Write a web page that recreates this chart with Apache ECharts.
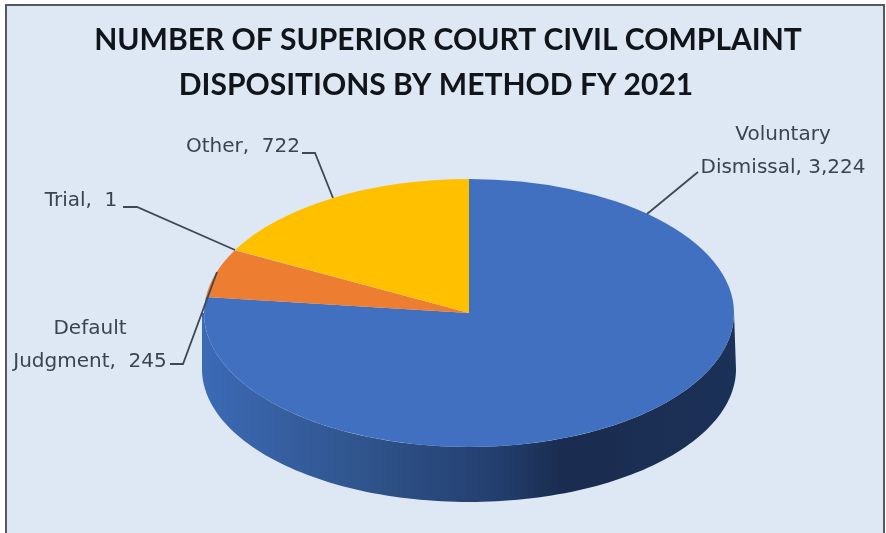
<!DOCTYPE html>
<html>
<head>
<meta charset="utf-8">
<style>html,body{margin:0;padding:0;background:#fff}#chart{width:886px;height:533px}</style>
<script src="https://cdn.jsdelivr.net/npm/echarts@6/dist/echarts.min.js"></script>
</head>
<body>
<div id="chart"></div>
<script>
// Civil complaint dispositions, clockwise from twelve o'clock
var categories = ["Voluntary Dismissal", "Default Judgment", "Trial", "Other"];
var dispositions = [3224, 245, 1, 722];
var sliceColors = ["#4170c1", "#ed7d31", "#a5a5a5", "#ffc000"];
var sliceLabels = ["Voluntary\nDismissal, 3,224", "Default\nJudgment,  245", "Trial,  1", "Other,  722"];
var titleLines = ["NUMBER OF SUPERIOR COURT CIVIL COMPLAINT", "DISPOSITIONS BY METHOD FY 2021"];

// Tilted-disc geometry
var disc = { cx: 469, cy: 313, rx: 265, ry: 134, baseCy: 369, baseRx: 267, baseRy: 133 };
var labelPlaces = [
  { x: 783, y: 151, path: [[647, 214], [698, 172]] },
  { x: 90, y: 345, path: [[170, 364], [183, 364], [217, 272]] },
  { x: 81, y: 201, path: [[123, 207], [137, 207], [235, 250]] },
  { x: 243, y: 147, path: [[302, 153], [315, 153], [333, 198]] }
];

var total = dispositions.reduce(function (a, b) { return a + b; }, 0);
var starts = [];
dispositions.reduce(function (sum, v, i) { starts[i] = sum; return sum + v; }, 0);
var toAngle = function (v) { return v / total * Math.PI * 2; };
var rows = dispositions.map(function (v, i) { return [v, starts[i], categories[i]]; });

// Cylinder wall: only the part of a slice that faces the viewer
function renderWall(params, api) {
  var a0 = toAngle(api.value(1)), a1 = a0 + toAngle(api.value(0));
  var from = Math.max(a0, Math.PI / 2), to = Math.min(a1, Math.PI * 1.5);
  if (to <= from) return null;
  var pts = [], steps = 120;
  for (var i = steps; i >= 0; i--) {
    var t = from + (to - from) * i / steps;
    pts.push([disc.cx + disc.rx * Math.sin(t), disc.cy - disc.ry * Math.cos(t)]);
  }
  for (var j = 0; j <= steps; j++) {
    var s = from + (to - from) * j / steps;
    pts.push([disc.cx + disc.baseRx * Math.sin(s), disc.baseCy - disc.baseRy * Math.cos(s)]);
  }
  pts.unshift([disc.cx + disc.baseRx, disc.cy]);
  pts.push([disc.cx - disc.baseRx, disc.cy]);
  return {
    type: 'polygon',
    shape: { points: pts },
    style: {
      fill: new echarts.graphic.LinearGradient(0, 0, 1, 0, [
        { offset: 0, color: '#3c6ab6' },
        { offset: 0.28, color: '#31568f' },
        { offset: 0.55, color: '#233f6f' },
        { offset: 0.68, color: '#1a2c4f' },
        { offset: 1, color: '#1c3158' }
      ])
    }
  };
}

// Top face: a sector squashed vertically into an ellipse
function renderFace(params, api) {
  var a0 = toAngle(api.value(1)), a1 = a0 + toAngle(api.value(0));
  return {
    type: 'sector',
    x: disc.cx, y: disc.cy,
    scaleX: 1, scaleY: disc.ry / disc.rx,
    shape: {
      cx: 0, cy: 0, r0: 0, r: disc.rx,
      startAngle: a0 - Math.PI / 2, endAngle: a1 - Math.PI / 2, clockwise: true
    },
    style: { fill: sliceColors[params.dataIndex] }
  };
}

function renderLabel(params) {
  var place = labelPlaces[params.dataIndex];
  return {
    type: 'group',
    children: [
      {
        type: 'polyline',
        shape: { points: place.path },
        style: { stroke: '#3f4856', lineWidth: 1.8, fill: null }
      },
      {
        type: 'text',
        style: {
          x: place.x, y: place.y,
          text: sliceLabels[params.dataIndex],
          fill: '#3b4350',
          font: '20px "DejaVu Sans"',
          lineHeight: 33,
          align: 'center', verticalAlign: 'middle'
        }
      }
    ]
  };
}

var chart = echarts.init(document.getElementById('chart'), null, { renderer: 'canvas' });
chart.setOption({
  animation: false,
  backgroundColor: '#ffffff',
  title: titleLines.map(function (line, i) {
    return {
      text: line,
      left: i === 0 ? 443 : 431,
      top: i === 0 ? 20 : 65,
      textAlign: 'center',
      textStyle: { fontFamily: 'Lato', fontWeight: 'bold', fontSize: 30, color: '#111418' }
    };
  }),
  graphic: [{
    type: 'rect', z: -10, silent: true,
    shape: { x: 6, y: 5, width: 878, height: 540 },
    style: { fill: '#dde8f4', stroke: '#55585c', lineWidth: 2 }
  }],
  series: [
    { type: 'custom', coordinateSystem: 'none', silent: true, z: 2, data: rows, renderItem: renderWall },
    { type: 'custom', coordinateSystem: 'none', silent: true, z: 3, data: rows, renderItem: renderFace },
    { type: 'custom', coordinateSystem: 'none', silent: true, z: 4, data: rows, renderItem: renderLabel }
  ]
});
</script>
</body>
</html>
